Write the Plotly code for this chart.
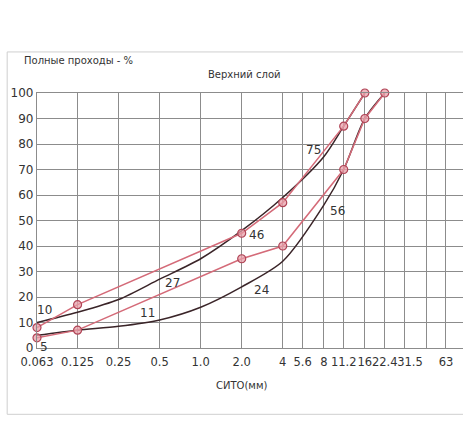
import numpy as np
import plotly.graph_objects as go

# Sieve sizes (mm) and their axis labels; 45 mm has a grid line but no label
sieves = [0.063, 0.125, 0.25, 0.5, 1.0, 2.0, 4, 5.6, 8, 11.2, 16, 22.4, 31.5, 45, 63]
sieve_text = ["0.063", "0.125", "0.25", "0.5", "1.0", "2.0", "4", "5.6", "8",
              "11.2", "16", "22.4", "31.5", "", "63"]
# Sieve whose label sits on a second, slightly shifted axis to stay clear of its neighbour
shifted_sieve = 31.5

# Grading envelope (smooth limit curves)
upper_x = [0.063, 0.125, 0.25, 0.5, 1.0, 2.0, 4, 8, 11.2, 16]
upper_y = [10, 14, 19, 27, 35, 46, 59, 75, 87, 100]
lower_x = [0.063, 0.125, 0.25, 0.5, 1.0, 2.0, 4, 8, 11.2, 16, 22.4]
lower_y = [5, 7, 8.5, 11, 16, 24, 34, 56, 70, 90, 100]

# Design mix limits (polylines with markers)
mix_hi_x = [0.063, 0.125, 2.0, 4, 11.2, 16]
mix_hi_y = [8, 17, 45, 57, 87, 100]
mix_lo_x = [0.063, 0.125, 2.0, 4, 11.2, 16, 22.4]
mix_lo_y = [4, 7, 35, 40, 70, 90, 100]

# Envelope value labels: (text, sieve, percent)
curve_labels = [("10", 0.072, 15), ("5", 0.071, 0.5), ("27", 0.62, 25.5),
                ("11", 0.41, 13.7), ("46", 2.55, 44.3), ("24", 2.8, 22.7),
                ("75", 6.7, 77.6), ("56", 10.1, 53.7)]

FONT = "DejaVu Sans"
GRID = "#8c8c8c"
DARK = "#3a2428"
RED = "#d46a78"
XRANGE = [np.log10(0.063), np.log10(84)]

main_vals = [v for v in sieves if v != shifted_sieve]
main_text = [t for v, t in zip(sieves, sieve_text) if v != shifted_sieve]
side_text = [t for v, t in zip(sieves, sieve_text) if v == shifted_sieve]

fig = go.Figure()

for xs, ys in ((upper_x, upper_y), (lower_x, lower_y)):
    fig.add_trace(go.Scatter(x=xs, y=ys, mode="lines",
                             line=dict(color=DARK, width=1.5, shape="spline", smoothing=0.8),
                             hoverinfo="skip", showlegend=False, cliponaxis=False))

for xs, ys in ((mix_hi_x, mix_hi_y), (mix_lo_x, mix_lo_y)):
    fig.add_trace(go.Scatter(x=xs, y=ys, mode="lines+markers",
                             line=dict(color=RED, width=1.5),
                             marker=dict(symbol="circle", size=8,
                                         color="rgba(232,160,170,0.75)",
                                         line=dict(color="#b04456", width=1.2)),
                             showlegend=False, cliponaxis=False))

# empty trace that keeps the secondary label axis active
fig.add_trace(go.Scatter(x=[shifted_sieve], y=[None], xaxis="x2", mode="lines",
                         hoverinfo="skip", showlegend=False))

annotations = [dict(text=t, x=np.log10(sx), y=sy, xref="x", yref="y",
                    showarrow=False, font=dict(family=FONT, size=12, color="#333"))
               for t, sx, sy in curve_labels]

annotations += [
    dict(text="Полные проходы - %", x=-0.036, y=1.129, xref="paper", yref="paper",
         xanchor="left", yanchor="middle", showarrow=False,
         font=dict(family=FONT, size=10, color="#333")),
    dict(text="Верхний слой", x=0.488, y=1.071, xref="paper", yref="paper",
         xanchor="center", yanchor="middle", showarrow=False,
         font=dict(family=FONT, size=10, color="#333")),
    dict(text="СИТО(мм)", x=0.481, y=-0.149, xref="paper", yref="paper",
         xanchor="center", yanchor="middle", showarrow=False,
         font=dict(family=FONT, size=10, color="#333")),
]

tickfont = dict(family=FONT, size=11.5, color="#333")

fig.update_layout(
    width=463, height=429,
    margin=dict(l=37, r=0, t=93, b=81),
    paper_bgcolor="white", plot_bgcolor="white",
    font=dict(family=FONT, size=12, color="#333"),
    annotations=annotations,
    shapes=[dict(type="rect", xref="paper", yref="paper",
                 x0=-0.07, x1=1.02, y0=-0.26, y1=1.161,
                 line=dict(color="#cfcfcf", width=1), layer="below")],
    xaxis=dict(type="log", range=XRANGE,
               tickmode="array", tickvals=sieves, ticktext=[""] * len(sieves),
               showticklabels=False,
               showgrid=True, gridcolor=GRID, gridwidth=1.3,
               showline=True, linecolor=GRID, linewidth=1.3, mirror=True,
               zeroline=False, ticks=""),
    xaxis2=dict(type="log", range=XRANGE, overlaying="x", anchor="y", side="bottom",
                tickmode="array", tickvals=main_vals, ticktext=main_text,
                tickangle=0, ticklabelstandoff=5, showgrid=False, showline=False,
                zeroline=False, ticks="", tickfont=tickfont),
    xaxis3=dict(type="log", range=XRANGE, overlaying="x", anchor="y", side="bottom",
                tickmode="array", tickvals=[shifted_sieve], ticktext=side_text,
                tickangle=0, ticklabelstandoff=5, ticklabelshift=5,
                showgrid=False, showline=False, zeroline=False, ticks="",
                tickfont=tickfont),
    yaxis=dict(range=[0, 100], dtick=10, showgrid=True, gridcolor=GRID, gridwidth=1.3,
               showline=True, linecolor=GRID, linewidth=1.3, zeroline=False, ticks="",
               tickfont=dict(family=FONT, size=12, color="#333")),
)

# keep the third axis drawn as well
fig.add_trace(go.Scatter(x=[shifted_sieve], y=[None], xaxis="x3", mode="lines",
                         hoverinfo="skip", showlegend=False))

fig.write_html("out.html")
